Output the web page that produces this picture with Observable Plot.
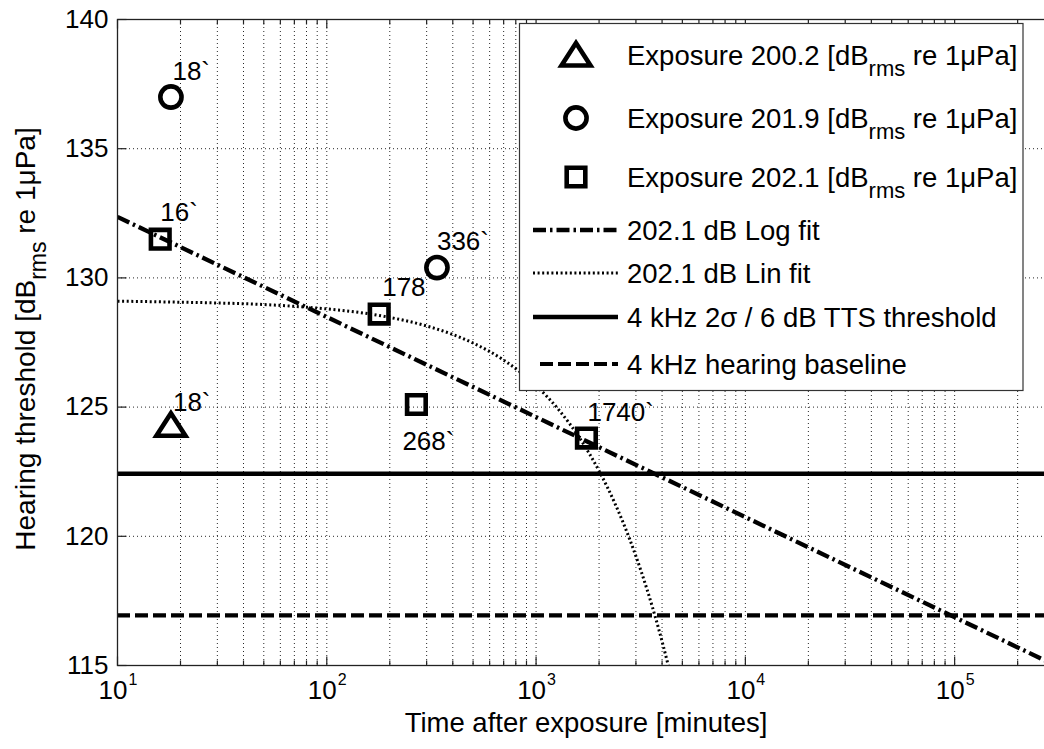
<!DOCTYPE html>
<html><head><meta charset="utf-8">
<script src="https://cdn.jsdelivr.net/npm/d3@7"></script>
<script src="https://cdn.jsdelivr.net/npm/@observablehq/plot@0.6"></script>
<style>
html,body{margin:0;padding:0;background:#fff;overflow:hidden;width:1044px;height:749px}
#chart{position:relative;width:1044px;height:749px;overflow:hidden}
#chart svg{max-width:none !important;display:block}
</style></head><body><div id="chart"></div>
<script>
const FONT = '"Liberation Sans", Arial, Helvetica, sans-serif';

// ---- data ----
const exp200T = [18];                 const exp200Y = [124.3];
const exp200Labels = ["18`"];
const exp2019T = [18, 336];           const exp2019Y = [137.0, 130.4];
const exp2019Labels = ["18`", "336`"];
const exp2021T = [16, 178, 268, 1740]; const exp2021Y = [131.5, 128.6, 125.1, 123.8];
const exp2021Labels = ["16`", "178", "268`", "1740`"];

const logFitT = [10, 300000];
const logFitY = [132.36, 115.02];
const linFitT = [10, 20, 30, 50, 70, 100, 150, 200, 300, 400, 500, 700, 1000, 1300, 1600, 2000, 2400, 2800, 3200, 3600, 4000, 4300];
const linFitY = [129.10, 129.06, 129.03, 128.97, 128.90, 128.80, 128.64, 128.47, 128.14, 127.81, 127.48, 126.82, 125.83, 124.84, 123.85, 122.53, 121.21, 119.89, 118.57, 117.25, 115.93, 114.94];

const ttsThreshold = 122.42;
const hearingBaseline = 116.94;

const yTicks = [115, 120, 125, 130, 135, 140];
const xDecades = [10, 100, 1000, 10000, 100000];
const xDecadeBase = ["10", "10", "10", "10", "10"];
const xExponents = ["1", "2", "3", "4", "5"];

const xLabel = "Time after exposure [minutes]";
const yLabel = "Hearing threshold [dB_{rms} re 1μPa]";
const legendLabels = [
  "Exposure 200.2 [dB_{rms} re 1μPa]",
  "Exposure 201.9 [dB_{rms} re 1μPa]",
  "Exposure 202.1 [dB_{rms} re 1μPa]",
  "202.1 dB Log fit",
  "202.1 dB Lin fit",
  "4 kHz 2σ / 6 dB TTS threshold",
  "4 kHz hearing baseline"
];

// ---- styles (offsets of point labels, in px) ----
const off200 = [[2, -22.5]];
const off2019 = [[1.5, -25], [0, -26]];
const off2021 = [[0, -26], [3, -26], [-14, 37], [1, -25]];

// ---- build tables ----
const pts = (T, Y, L, O) => T.map((t, i) => ({t, y: Y[i], label: L[i], dx: O[i][0], dy: O[i][1]}));
const d200 = pts(exp200T, exp200Y, exp200Labels, off200);
const d2019 = pts(exp2019T, exp2019Y, exp2019Labels, off2019);
const d2021 = pts(exp2021T, exp2021Y, exp2021Labels, off2021);
const logFit = logFitT.map((t, i) => ({t, y: logFitY[i]}));
const linFit = linFitT.map((t, i) => ({t, y: linFitY[i]}));

// symbols
const triSym = {draw(ctx, size) { const r = Math.sqrt(size / Math.PI);
  ctx.moveTo(0, -1.2 * r); ctx.lineTo(1.45 * r, 1.05 * r); ctx.lineTo(-1.45 * r, 1.05 * r); ctx.closePath(); }};
const circSym = {draw(ctx, size) { const r = Math.sqrt(size / Math.PI) * 1.06;
  ctx.moveTo(r, 0); ctx.arc(0, 0, r, 0, 2 * Math.PI); }};
const sqSym = {draw(ctx, size) { const h = Math.sqrt(size / Math.PI) * 0.93;
  ctx.moveTo(-h, -h); ctx.lineTo(h, -h); ctx.lineTo(h, h); ctx.lineTo(-h, h); ctx.closePath(); }};
// tick symbols (segments of fixed pixel length)
const tickSym = (dx, dy) => ({draw(ctx) { ctx.moveTo(0, 0); ctx.lineTo(dx, dy); }});

const MSW = 4.6, MR = 10;
const DASHDOT = "13,4,2.5,4", DOTTED = "2,2.6", DASHED = "13,5";

const W = 1060, H = 749, ML = 117, MRt = 6, MT = 19, MB = 84;

const xs = d3.scaleLog().domain([10, 3e5]);
const gridX = xs.ticks().filter(d => d > 10);
const majorX = xDecades;
const minorX = gridX.filter(d => !xDecades.includes(d));
const gridY = yTicks.filter(d => d > 115 && d < 140);

const ptLabels = (data) => data.map(d => Plot.text([d], {x: "t", y: "y", text: "label", dx: d.dx, dy: d.dy, textAnchor: "start", fontSize: 26, fill: "black"}));
const TK = {stroke: "#222", strokeWidth: 1.2, fill: "none", r: 1};
const GRID = {stroke: "#111", strokeOpacity: 0.9, strokeWidth: 1, strokeDasharray: "1,3"};

const plot = Plot.plot({
  width: W, height: H, marginLeft: ML, marginRight: MRt, marginTop: MT, marginBottom: MB,
  x: {type: "log", domain: [10, 3e5], axis: null},
  y: {domain: [115, 140], axis: null},
  style: {fontFamily: FONT, background: "white", maxWidth: "none", overflow: "visible"},
  marks: [
    Plot.ruleX(gridX, GRID),
    Plot.ruleY(gridY, GRID),
    Plot.ruleY([ttsThreshold], {stroke: "black", strokeWidth: 4.5}),
    Plot.ruleY([hearingBaseline], {stroke: "black", strokeWidth: 4.2, strokeDasharray: DASHED}),
    Plot.line(linFit, {x: "t", y: "y", stroke: "black", strokeWidth: 3, strokeDasharray: DOTTED, strokeLinecap: "butt", curve: "monotone-x", clip: true}),
    Plot.line(logFit, {x: "t", y: "y", stroke: "black", strokeWidth: 4.3, strokeDasharray: DASHDOT, strokeLinecap: "butt", clip: true}),
    Plot.dot(d200, {x: "t", y: "y", symbol: triSym, r: MR, stroke: "black", strokeWidth: MSW, fill: "none", strokeLinejoin: "miter"}),
    Plot.dot(d2019, {x: "t", y: "y", symbol: circSym, r: MR, stroke: "black", strokeWidth: MSW, fill: "none"}),
    Plot.dot(d2021, {x: "t", y: "y", symbol: sqSym, r: MR, stroke: "black", strokeWidth: MSW, fill: "none", strokeLinejoin: "miter"}),
    ...ptLabels(d200), ...ptLabels(d2019), ...ptLabels(d2021),
    Plot.frame({stroke: "#222", strokeWidth: 1.3}),
    // inward ticks
    Plot.dot(majorX, {x: d => d, y: () => 115, symbol: tickSym(0, -9), ...TK}),
    Plot.dot(majorX, {x: d => d, y: () => 140, symbol: tickSym(0, 9), ...TK}),
    Plot.dot(minorX, {x: d => d, y: () => 115, symbol: tickSym(0, -5), ...TK}),
    Plot.dot(minorX, {x: d => d, y: () => 140, symbol: tickSym(0, 5), ...TK}),
    Plot.dot(yTicks, {x: () => 10, y: d => d, symbol: tickSym(9, 0), ...TK}),
    // tick labels
    Plot.text(yTicks, {y: d => d, frameAnchor: "left", dx: -9, textAnchor: "end", fontSize: 26, fill: "black", text: d => String(d)}),
    Plot.text(xDecades, {x: d => d, frameAnchor: "bottom", dx: 10, dy: 33.5, textAnchor: "end", fontSize: 26, fill: "black", text: (d, i) => xDecadeBase[i]}),
    Plot.text(xDecades, {x: d => d, frameAnchor: "bottom", dx: 11, dy: 19, textAnchor: "start", fontSize: 16, fill: "black", text: (d, i) => xExponents[i]}),
    Plot.text([xLabel], {frameAnchor: "bottom", dy: 66, fontSize: 27.5, fill: "black", text: d => d})
  ]
});
document.getElementById("chart").appendChild(plot);
plot.style.maxWidth = "none";

// rich text helper: "_{...}" -> subscript
function addRich(sel, str, fs, subFs, shift) {
  const parts = str.split(/(_\{[^}]*\})/).filter(s => s.length);
  let pending = 0;
  parts.forEach(p => {
    if (p.startsWith("_{")) {
      sel.append("tspan").attr("font-size", subFs).attr("dy", shift).text(p.slice(2, -1));
      pending = -shift;
    } else {
      const t = sel.append("tspan").attr("font-size", fs).text(p);
      if (pending) { t.attr("dy", pending); pending = 0; }
    }
  });
}

const svg = d3.select(plot);
// y label
const yl = svg.append("text").attr("transform", "translate(35,339) rotate(-90)")
  .attr("text-anchor", "middle").attr("font-family", FONT).attr("font-size", 28).attr("fill", "black");
addRich(yl, yLabel, 28, 23, 11);

// legend
const lg = svg.append("g").attr("font-family", FONT).attr("font-size", 27.5).attr("text-anchor", "start");
lg.append("rect").attr("x", 519.5).attr("y", 23.5).attr("width", 503.5).attr("height", 367)
  .attr("fill", "white").attr("stroke", "#333").attr("stroke-width", 1.2);
const rowsY = [55, 118, 177, 230, 273, 317, 364];
const symPath = (sym) => { const p = d3.path(); sym.draw(p, MR * MR * Math.PI); return p.toString(); };
[triSym, circSym, sqSym].forEach((s, i) => {
  lg.append("path").attr("d", symPath(s)).attr("transform", `translate(576,${rowsY[i]})`)
    .attr("fill", "none").attr("stroke", "black").attr("stroke-width", MSW).attr("stroke-linejoin", "miter");
});
const lineStyles = [
  {dash: DASHDOT, w: 4.3, x1: 533},
  {dash: DOTTED, w: 3, x1: 533},
  {dash: null, w: 4.5, x1: 533},
  {dash: DASHED, w: 4.2, x1: 540}
];
lineStyles.forEach((s, j) => {
  const yy = rowsY[3 + j];
  const l = lg.append("line").attr("x1", s.x1).attr("x2", 618).attr("y1", yy).attr("y2", yy)
    .attr("stroke", "black").attr("stroke-width", s.w).attr("stroke-linecap", "butt");
  if (s.dash) l.attr("stroke-dasharray", s.dash);
});
legendLabels.forEach((lab, i) => {
  const t = lg.append("text").attr("x", 627).attr("y", rowsY[i] + 9.8).attr("fill", "black").attr("text-anchor", "start");
  addRich(t, lab, 27.5, 22, 11);
});
</script></body></html>
